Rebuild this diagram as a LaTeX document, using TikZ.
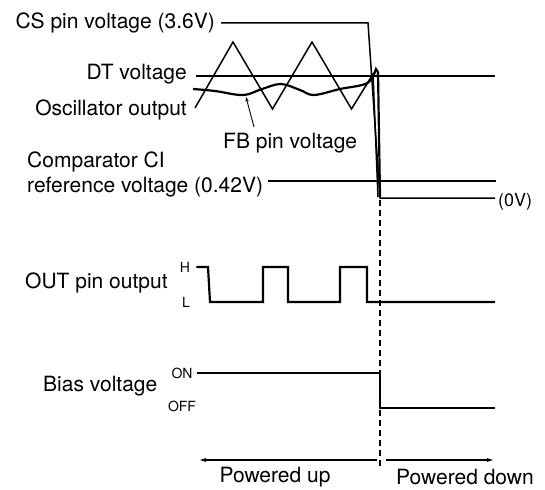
\documentclass[tikz,border=0pt]{standalone}
\usepackage{fontspec}
\setmainfont{TeX Gyre Heros}
\usetikzlibrary{arrows.meta, positioning}

\begin{document}
\begin{tikzpicture}[x=1pt, y=-1pt,
    lbl/.style={font=\fontsize{21}{23}\selectfont, inner sep=0pt},
    lvl/.style={font=\fontsize{14}{16}\selectfont, inner sep=0pt},
    sig/.style={line width=1.5pt},
    thicksig/.style={line width=2.2pt}]
    \useasboundingbox[fill=white] (0,0) rectangle (545,489);

    % Signal names
    \node[lbl, anchor=east] (cs) at (215,23) {CS pin voltage (3.6V)};
    \node[lbl, anchor=east] (dt) at (187,74) {DT voltage};
    \node[lbl, anchor=east] (osc) at (187,110) {Oscillator output};
    \node[lbl, anchor=west] (fb) at (223,143) {FB pin voltage};
    \node[lbl, anchor=west] (cmp) at (27,162) {Comparator CI};
    \node[lbl, anchor=west] (ref) at (27,187) {reference voltage (0.42V)};
    \node[font=\fontsize{18}{20}\selectfont, inner sep=0pt, anchor=west] (zero) at (498,202) {(0V)};
    \node[lbl, anchor=west] (out) at (25,283) {OUT pin output};
    \node[lbl, anchor=west] (bias) at (43,386) {Bias voltage};

    % Levels
    \node[lvl] (hlab) at (185,267) {H};
    \node[lvl] (llab) at (186,302) {L};
    \node[lvl] (on) at (182,373) {ON};
    \node[lvl] (off) at (182,406) {OFF};

    % CS pin voltage
    \draw[sig] ([xshift=6pt]cs.east) -- (368,23) -- (380,198) -- (495,198);

    % DT voltage and comparator reference
    \draw[sig] (196,76) -- (495,76);
    \draw[sig] ([xshift=5pt]ref.east |- 0,181) -- (496,181);

    % Oscillator output
    \draw[sig] (195,108) -- (233,42) -- (272.5,109) -- (312,42) -- (351.5,109)
        -- (373,74) -- (378,197);

    % FB pin voltage
    \draw[thicksig] plot[smooth, tension=0.6] coordinates {(193,89) (215,91) (243,95)
        (262,89) (281,84) (300,90) (314,95) (340,89) (362,85) (371,80) (376,69)}
        -- (378,72) -- (380,197);
    \coordinate (fbtip) at (246,97);
    \draw[-{Stealth[length=5pt,width=3.5pt]}, line width=0.9pt] (254,127) -- (fbtip);

    % OUT pin output
    \draw[thicksig] ([xshift=6pt]hlab.east) -- (208,267) -- (210,302) -- (263,302)
        -- (263,267) -- (288,267) -- (288,302) -- (340,302) -- (340,267)
        -- (367,267) -- (367,302) -- (495,302);

    % Bias voltage
    \draw[sig] ([xshift=4pt]on.east) -- (380,373) -- (380,408) -- (495,408);

    % Power-down instant
    \draw[line width=1.2pt, dash pattern=on 6pt off 4pt] (380,200) -- (380,468);

    \node[lbl] (up) at (275,477) {Powered up};
    \node[lbl] (down) at (465,477) {Powered down};
    \draw[sig, -{Latex[length=8pt,width=4pt]}] (377,460) -- (198,460);
    \draw[sig, -{Latex[length=8pt,width=4pt]}] (386,460) -- (495,460);
\end{tikzpicture}
\end{document}
